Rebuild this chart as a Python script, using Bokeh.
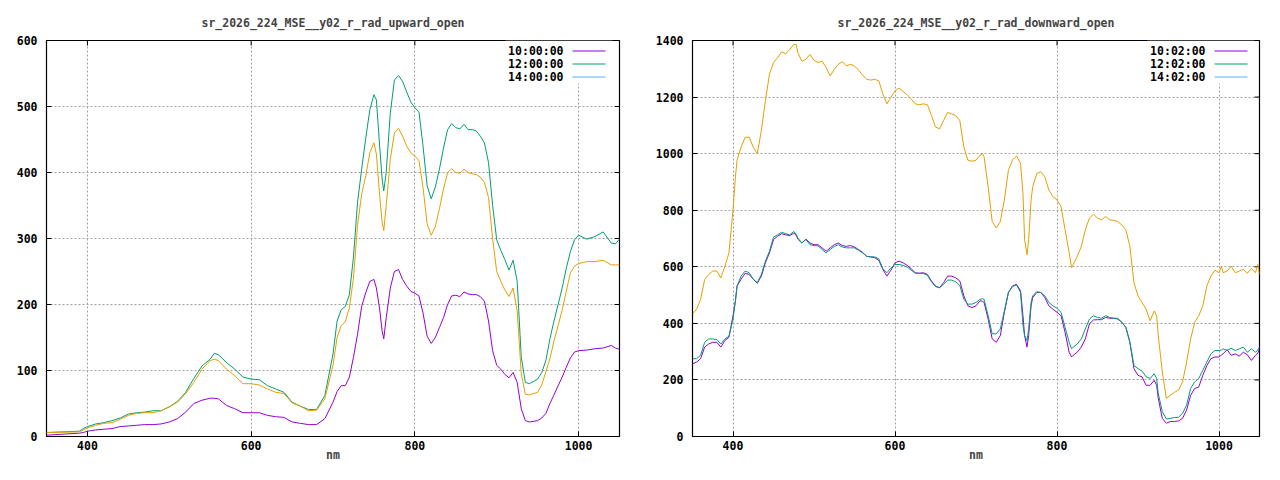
import math
from bokeh.plotting import figure
from bokeh.layouts import row
from bokeh.models import Range1d, FixedTicker, Label, Arrow, BoxAnnotation
from bokeh.embed import file_html
from bokeh.resources import INLINE

# ---------------- data: upward panel ----------------
wl_up = [350, 390, 395, 400, 410, 420, 430, 440, 450, 460,
         470, 480, 490, 500, 510, 520, 530, 540, 550, 555,
         560, 570, 580, 590, 600, 610, 620, 630, 640, 650,
         660, 670, 680, 690, 700, 705, 710, 715, 720, 725,
         730, 735, 740, 745, 750, 753, 757, 760, 762, 765, 770,
         775, 780, 785, 790, 795, 800, 805, 810, 815, 820,
         825, 830, 835, 840, 845, 850, 855, 860, 865, 870,
         875, 880, 885, 890, 895, 900, 905, 910, 915, 920,
         925, 930, 935, 940, 950, 955, 960, 965, 970, 975,
         980, 985, 990, 995, 1000, 1010, 1020, 1030, 1040, 1045,
         1050]

up_10 = [2, 5, 6, 8, 10, 11, 12, 15, 16, 17,
         18, 18, 19, 22, 27, 37, 50, 55, 58, 58,
         57, 47, 42, 36, 36, 36, 32, 30, 29, 22,
         20, 18, 18, 27, 52, 68, 77, 77, 90, 120,
         155, 197, 218, 235, 238, 225, 193, 160, 148, 180, 225,
         250, 253, 238, 228, 220, 217, 213, 187, 152, 141,
         150, 165, 180, 200, 213, 214, 212, 219, 216, 215,
         215, 212, 205, 175, 130, 108, 102, 94, 89, 97,
         82, 42, 24, 22, 24, 28, 35, 50, 63, 77,
         90, 105, 119, 128, 130, 131, 133, 134, 138, 134,
         132]

up_12 = [6, 8, 12, 15, 19, 21, 24, 28, 34, 36,
         37, 39, 39, 45, 53, 67, 88, 107, 117, 126,
         124, 112, 102, 90, 87, 86, 77, 72, 67, 52,
         46, 41, 41, 62, 125, 175, 192, 197, 215, 272,
         355, 405, 452, 495, 518, 510, 440, 390, 372, 400, 490,
         540, 547, 538, 522, 507, 498, 492, 440, 380, 360,
         378, 405, 437, 465, 474, 468, 466, 473, 465, 465,
         463, 455, 445, 415, 350, 298, 282, 268, 252, 267,
         235, 120, 82, 80, 87, 97, 115, 148, 175, 200,
         225, 255, 280, 298, 305, 299, 303, 310, 293, 292,
         299]

up_14 = [6, 7, 10, 13, 17, 20, 21, 26, 32, 35,
         36, 36, 39, 45, 52, 65, 82, 102, 115, 117,
         115, 102, 92, 80, 80, 78, 72, 67, 65, 51,
         46, 39, 40, 57, 108, 150, 168, 174, 195, 240,
         320, 367, 395, 430, 445, 428, 365, 325, 312, 350, 420,
         460, 467, 455, 440, 430, 425, 418, 377, 322, 305,
         318, 345, 375, 400, 406, 400, 399, 405, 400, 398,
         397, 393, 385, 362, 300, 250, 235, 222, 212, 225,
         190, 95, 64, 63, 67, 78, 98, 118, 145, 168,
         192, 220, 248, 258, 262, 265, 265, 267, 260, 260,
         260]

# ---------------- data: downward panel ----------------
wl_down = [350, 355, 360, 365, 370, 375, 380, 385, 390, 395,
           400, 403, 405, 410, 415, 420, 425, 430, 435, 440,
           445, 450, 455, 460, 465, 470, 475, 478, 480, 485,
           490, 495, 500, 505, 510, 515, 520, 525, 530, 535,
           540, 545, 550, 555, 560, 565, 570, 575, 580, 585,
           590, 595, 600, 605, 610, 615, 620, 625, 630, 635,
           640, 645, 650, 655, 660, 665, 670, 675, 680, 685,
           690, 695, 700, 705, 708, 710, 715, 720, 725, 730,
           735, 740, 745, 750, 755, 758, 760, 763, 765, 768,
           770, 775, 780, 785, 790, 795, 800, 805, 810, 815,
           818, 820, 825, 830, 835, 840, 845, 850, 855, 860,
           865, 870, 875, 880, 885, 890, 895, 900, 905, 910,
           915, 920, 923, 925, 930, 935, 940, 945, 950, 955,
           960, 965, 970, 975, 980, 985, 990, 995, 1000, 1003,
           1005, 1010, 1015, 1020, 1025, 1030, 1035, 1040, 1045, 1048,
           1050]

down_10 = [257, 263, 275, 316, 327, 333, 333, 316, 339, 351,
           427, 480, 532, 556, 577, 573, 556, 542, 567, 614,
           649, 696, 708, 717, 713, 710, 719, 712, 698, 684,
           698, 684, 678, 678, 667, 655, 667, 678, 684, 675,
           672, 675, 670, 661, 651, 637, 635, 632, 623, 591,
           567, 588, 614, 620, 614, 605, 593, 579, 577, 579,
           573, 550, 532, 526, 544, 567, 567, 561, 550, 497,
           462, 456, 462, 480, 478, 474, 415, 345, 333, 357,
           439, 509, 532, 538, 515, 427, 357, 316, 357, 462,
           491, 509, 509, 491, 462, 450, 439, 427, 368, 298,
           281, 287, 298, 316, 345, 398, 412, 413, 413, 421,
           418, 418, 415, 404, 386, 333, 240, 216, 211, 181,
           181, 199, 181, 135, 64, 47, 53, 53, 55, 64,
           94, 146, 170, 175, 216, 251, 275, 281, 281, 288,
           292, 307, 287, 292, 284, 298, 289, 269, 287, 295,
           310]

down_12 = [275, 275, 287, 333, 345, 345, 343, 327, 345, 354,
           415, 480, 532, 567, 585, 579, 556, 544, 573, 620,
           655, 705, 713, 722, 717, 713, 725, 715, 702, 684,
           696, 678, 675, 674, 661, 649, 661, 672, 678, 670,
           667, 667, 667, 658, 649, 637, 635, 635, 628, 593,
           579, 596, 608, 608, 605, 599, 588, 577, 577, 576,
           570, 547, 530, 526, 538, 553, 553, 547, 534, 485,
           468, 468, 474, 485, 487, 485, 427, 363, 363, 380,
           444, 509, 530, 536, 509, 392, 357, 339, 380, 474,
           497, 512, 509, 497, 474, 462, 453, 439, 386, 333,
           310, 316, 327, 345, 380, 415, 427, 421, 418, 427,
           421, 418, 418, 404, 386, 333, 251, 240, 231, 211,
           205, 222, 205, 152, 88, 62, 64, 67, 68, 82,
           111, 170, 193, 205, 234, 263, 292, 304, 304, 306,
           310, 304, 312, 304, 310, 316, 298, 310, 298, 305,
           316]

down_14 = [433, 450, 485, 555, 573, 585, 585, 561, 602, 649,
           801, 918, 977, 1023, 1058, 1058, 1023, 1000, 1082, 1187,
           1281, 1322, 1339, 1360, 1353, 1368, 1386, 1386, 1357, 1327,
           1333, 1351, 1330, 1322, 1327, 1304, 1275, 1298, 1316, 1325,
           1310, 1316, 1310, 1295, 1278, 1263, 1260, 1263, 1257, 1211,
           1176, 1199, 1222, 1232, 1220, 1208, 1193, 1176, 1173, 1176,
           1173, 1135, 1094, 1088, 1117, 1146, 1140, 1135, 1117, 1023,
           977, 973, 977, 994, 1000, 988, 883, 760, 737, 760,
           836, 941, 977, 992, 965, 860, 696, 643, 696, 836,
           883, 930, 936, 918, 871, 848, 836, 813, 731, 649,
           597, 608, 637, 672, 731, 772, 786, 772, 766, 778,
           766, 764, 760, 748, 731, 672, 544, 497, 474, 450,
           409, 444, 427, 357, 228, 135, 146, 156, 164, 193,
           263, 345, 404, 427, 462, 532, 567, 588, 579, 602,
           579, 585, 602, 579, 585, 591, 577, 594, 579, 608,
           573]

x_ticks = [400, 600, 800, 1000]
up_ticks = [0, 100, 200, 300, 400, 500, 600]
down_ticks = [0, 200, 400, 600, 800, 1000, 1200, 1400]
up_labels = ["10:00:00", "12:00:00", "14:00:00"]
down_labels = ["10:02:00", "12:02:00", "14:02:00"]
up_title = "sr_2026_224_MSE__y02_r_rad_upward_open"
down_title = "sr_2026_224_MSE__y02_r_rad_downward_open"

FONT = "DejaVu Sans Mono"
FS = "11.5px"
C_PURPLE = "#9400d3"
C_GREEN = "#009e73"
C_BLUE = "#56b4e9"
C_ORANGE = "#e69f00"
KEY_COLORS = [C_PURPLE, C_GREEN, C_BLUE]

X0, X1 = 350, 1050
FRAME_H = 396          # 464 - 40 (top border) - 28 (bottom border)
KEY_ROWS = [385.5, 372.5, 359.5]   # key rows, px up from frame bottom


def style_axis(ax):
    ax.axis_line_color = None
    ax.major_tick_in = 5
    ax.major_tick_out = 0
    ax.minor_tick_line_color = None
    ax.major_tick_line_color = "black"
    ax.major_tick_line_width = 1
    ax.major_label_text_font = FONT
    ax.major_label_text_font_size = FS
    ax.major_label_text_font_style = "bold"
    ax.major_label_text_color = "black"


def make_panel(title, xs, s10, s12, s14, labels, ymax, yticks, bl, br, key_x):
    p = figure(width=632, height=464, output_backend="svg", toolbar_location=None,
               x_range=Range1d(X0, X1), y_range=Range1d(0, ymax),
               min_border_left=bl, min_border_right=br,
               min_border_top=40, min_border_bottom=26,
               x_axis_label="nm", title=title)
    p.background_fill_color = "white"
    p.border_fill_color = "white"
    p.outline_line_color = "black"
    p.outline_line_width = 1.2
    p.title.text_font = FONT
    p.title.text_font_size = FS
    p.title.text_font_style = "bold"
    p.title.align = "center"
    p.title.standoff = 22

    p.xaxis.ticker = FixedTicker(ticks=x_ticks)
    p.yaxis.ticker = FixedTicker(ticks=yticks)
    for ax in p.xaxis + p.yaxis:
        style_axis(ax)
    p.yaxis.major_label_standoff = 9
    p.xaxis.major_label_standoff = 4
    p.xaxis.axis_label_text_font = FONT
    p.xaxis.axis_label_text_font_size = FS
    p.xaxis.axis_label_text_font_style = "bold"
    p.xaxis.axis_label_standoff = -5

    p.xgrid.ticker = FixedTicker(ticks=x_ticks)
    p.ygrid.ticker = FixedTicker(ticks=yticks)
    for g in (p.xgrid, p.ygrid):
        g.grid_line_color = "#a0a0a0"
        g.grid_line_dash = "2 2"
        g.grid_line_width = 1

    # mirrored inward ticks on top and right edges (clipped to the frame)
    p.scatter(x=x_ticks, y=[ymax] * len(x_ticks), marker="dash", angle=math.pi / 2,
              size=10, line_color="black", line_width=1)
    p.scatter(x=[X1] * len(yticks), y=yticks, marker="dash",
              size=10, line_color="black", line_width=1)

    p.line(xs, s10, line_color=C_PURPLE, line_width=1)
    p.line(xs, s12, line_color=C_GREEN, line_width=1)
    p.line(xs, s14, line_color=C_ORANGE, line_width=1)

    # key (gnuplot style: label, then line sample), on an opaque white box
    p.add_layout(BoxAnnotation(left=key_x - 58, right=key_x + 49, top=FRAME_H,
                               bottom=FRAME_H - 43,
                               left_units="screen", right_units="screen",
                               top_units="screen", bottom_units="screen",
                               fill_color="white", fill_alpha=1.0, line_color=None))
    for lab, col, ky in zip(labels, KEY_COLORS, KEY_ROWS):
        p.add_layout(Label(x=key_x, y=ky, x_units="screen", y_units="screen", text=lab,
                           text_align="right", text_baseline="middle",
                           text_font=FONT, text_font_size=FS, text_font_style="bold",
                           text_color="black"))
        p.add_layout(Arrow(end=None, x_start=key_x + 9, y_start=ky,
                           x_end=key_x + 42, y_end=ky,
                           start_units="screen", end_units="screen",
                           line_color=col, line_width=1))
    return p


p1 = make_panel(up_title, wl_up, up_10, up_12, up_14, up_labels, 600, up_ticks, 46, 13, 517)
p2 = make_panel(down_title, wl_down, down_10, down_12, down_14, down_labels, 1400, down_ticks, 60, 5, 513)

layout = row(p1, p2)
open("out.html", "w").write(file_html(layout, INLINE))
